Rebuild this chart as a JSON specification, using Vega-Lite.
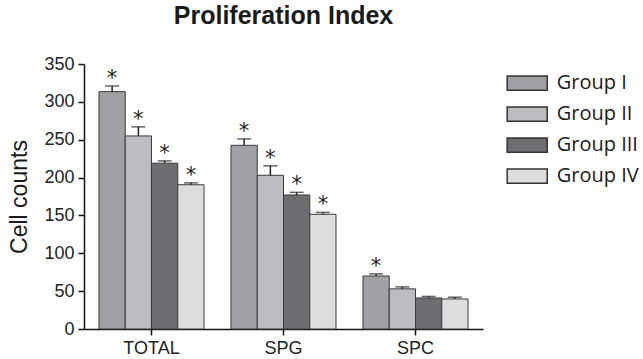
{
  "$schema": "https://vega.github.io/schema/vega-lite/v6.json",
  "autosize": {"type": "none"},
  "padding": {"left": 84, "top": 64, "right": 160, "bottom": 30},
  "width": 399,
  "height": 265,
  "title": {"text": "Proliferation Index", "font": "Liberation Sans", "fontSize": 25, "fontWeight": "bold", "color": "#1a1a1a", "anchor": "middle", "offset": 26},
  "config": {"view": {"stroke": null}},
  "data": {"values": [
    {"category": "TOTAL", "group": "Group I", "value": 313.5, "err": 321, "star": "*"},
    {"category": "TOTAL", "group": "Group II", "value": 255, "err": 267, "star": "*"},
    {"category": "TOTAL", "group": "Group III", "value": 219, "err": 222, "star": "*"},
    {"category": "TOTAL", "group": "Group IV", "value": 190.5, "err": 193, "star": "*"},
    {"category": "SPG", "group": "Group I", "value": 242.6, "err": 251, "star": "*"},
    {"category": "SPG", "group": "Group II", "value": 203, "err": 215.5, "star": "*"},
    {"category": "SPG", "group": "Group III", "value": 177, "err": 180.5, "star": "*"},
    {"category": "SPG", "group": "Group IV", "value": 151.5, "err": 154, "star": "*"},
    {"category": "SPC", "group": "Group I", "value": 70, "err": 72.8, "star": "*"},
    {"category": "SPC", "group": "Group II", "value": 53, "err": 55.6, "star": ""},
    {"category": "SPC", "group": "Group III", "value": 41, "err": 43, "star": ""},
    {"category": "SPC", "group": "Group IV", "value": 39.7, "err": 42, "star": ""}
  ]},
  "encoding": {
    "x": {"field": "category", "type": "nominal", "sort": ["TOTAL", "SPG", "SPC"],
      "scale": {"paddingInner": 0.2045, "paddingOuter": 0.1136},
      "axis": {"title": null, "labelAngle": 0, "labelFont": "Liberation Sans", "labelFontSize": 18, "labelColor": "#222", "domainColor": "#111", "domainWidth": 1.5, "tickColor": "#111", "tickWidth": 1.5, "tickSize": 6, "labelPadding": 4}},
    "xOffset": {"field": "group", "type": "nominal", "sort": ["Group I", "Group II", "Group III", "Group IV"], "scale": {"paddingInner": 0, "paddingOuter": 0}}
  },
  "layer": [
    {
      "mark": {"type": "bar", "stroke": "#3a3a3a", "strokeWidth": 1},
      "encoding": {
        "y": {"field": "value", "type": "quantitative", "scale": {"domain": [0, 350]},
          "axis": {"title": "Cell counts", "titleFont": "Liberation Sans", "titleFontSize": 23, "titleFontWeight": "normal", "titleColor": "#1a1a1a", "titlePadding": 12,
            "values": [0, 50, 100, 150, 200, 250, 300, 350], "tickCount": 8, "grid": false, "labelOverlap": false,
            "labelFont": "Liberation Sans", "labelFontSize": 18, "labelColor": "#222", "labelPadding": 4,
            "domainColor": "#111", "domainWidth": 1.5, "tickColor": "#111", "tickWidth": 1.5, "tickSize": 6}},
        "color": {"field": "group", "type": "nominal", "sort": ["Group I", "Group II", "Group III", "Group IV"],
          "scale": {"range": ["#a0a1a5", "#bcbdc0", "#6d6e72", "#dcdddf"]},
          "legend": {"title": null, "orient": "none", "legendX": 427.7, "legendY": 3.7,
            "symbolType": "M-1.4,-0.5L1.4,-0.5L1.4,0.5L-1.4,0.5Z", "symbolSize": 818, "symbolStrokeColor": "#333", "symbolStrokeWidth": 1.5,
            "labelFont": "Open Sans", "labelFontSize": 20, "labelColor": "#1a1a1a", "labelOffset": 14, "rowPadding": 5, "symbolOpacity": 1}}
      }
    },
    {
      "mark": {"type": "rule", "color": "#222", "strokeWidth": 1.5},
      "encoding": {
        "y": {"field": "value", "type": "quantitative", "scale": {"domain": [0, 350]},
          "axis": {"title": "Cell counts", "titleFont": "Liberation Sans", "titleFontSize": 23, "titleFontWeight": "normal", "titleColor": "#1a1a1a", "titlePadding": 12,
            "values": [0, 50, 100, 150, 200, 250, 300, 350], "tickCount": 8, "grid": false, "labelOverlap": false,
            "labelFont": "Liberation Sans", "labelFontSize": 18, "labelColor": "#222", "labelPadding": 4,
            "domainColor": "#111", "domainWidth": 1.5, "tickColor": "#111", "tickWidth": 1.5, "tickSize": 6}},
        "y2": {"field": "err"}
      }
    },
    {
      "mark": {"type": "tick", "color": "#222", "thickness": 1.5, "size": 14, "orient": "horizontal"},
      "encoding": {
        "y": {"field": "err", "type": "quantitative", "scale": {"domain": [0, 350]},
          "axis": {"title": "Cell counts", "titleFont": "Liberation Sans", "titleFontSize": 23, "titleFontWeight": "normal", "titleColor": "#1a1a1a", "titlePadding": 12,
            "values": [0, 50, 100, 150, 200, 250, 300, 350], "tickCount": 8, "grid": false, "labelOverlap": false,
            "labelFont": "Liberation Sans", "labelFontSize": 18, "labelColor": "#222", "labelPadding": 4,
            "domainColor": "#111", "domainWidth": 1.5, "tickColor": "#111", "tickWidth": 1.5, "tickSize": 6}}
      }
    },
    {
      "mark": {"type": "text", "font": "DejaVu Sans", "fontSize": 21, "color": "#222", "baseline": "middle", "dy": -7},
      "encoding": {
        "y": {"field": "err", "type": "quantitative", "scale": {"domain": [0, 350]},
          "axis": {"title": "Cell counts", "titleFont": "Liberation Sans", "titleFontSize": 23, "titleFontWeight": "normal", "titleColor": "#1a1a1a", "titlePadding": 12,
            "values": [0, 50, 100, 150, 200, 250, 300, 350], "tickCount": 8, "grid": false, "labelOverlap": false,
            "labelFont": "Liberation Sans", "labelFontSize": 18, "labelColor": "#222", "labelPadding": 4,
            "domainColor": "#111", "domainWidth": 1.5, "tickColor": "#111", "tickWidth": 1.5, "tickSize": 6}},
        "text": {"field": "star"}
      }
    }
  ]
}
